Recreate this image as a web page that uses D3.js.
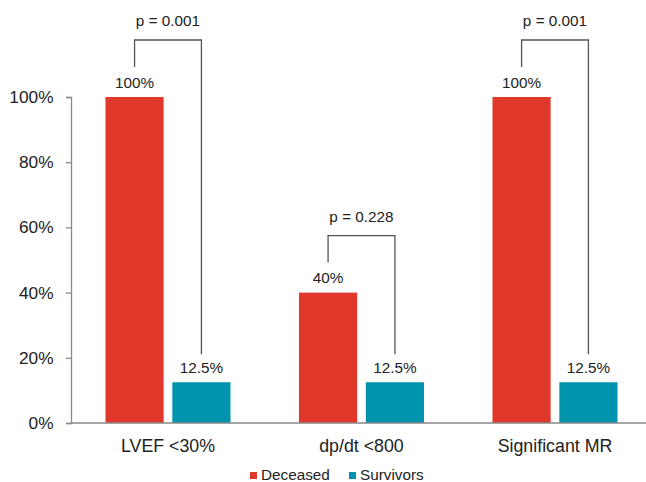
<!DOCTYPE html>
<html><head><meta charset="utf-8">
<script src="https://cdn.jsdelivr.net/npm/d3@7"></script>
<style>html,body{margin:0;padding:0;background:#fff;}svg{display:block;}</style>
</head><body>
<script>
const categories = ["LVEF <30%", "dp/dt <800", "Significant MR"];
const seriesNames = ["Deceased", "Survivors"];
const deceased = [100, 40, 100];
const survivors = [12.5, 12.5, 12.5];
const valueLabels = [["100%", "12.5%"], ["40%", "12.5%"], ["100%", "12.5%"]];
const pValues = ["p = 0.001", "p = 0.228", "p = 0.001"];
const yTicks = [0, 20, 40, 60, 80, 100];
const colors = ["#E0392B", "#0093AE"];

const W = 646, H = 482;
const svg = d3.select("body").append("svg").attr("width", W).attr("height", H);
const font = "Liberation Sans, Arial, Helvetica, sans-serif";
const textColor = "#222";

const y = d3.scaleLinear().domain([0, 100]).range([423, 97]);
const x = d3.scaleBand().domain(categories).range([71.25, 651.75]).paddingInner(0.354).paddingOuter(0.177);
const xs = d3.scaleBand().domain(seriesNames).range([0, x.bandwidth()]).paddingInner(0.13);

const data = categories.map((c, i) => ({cat: c, vals: [deceased[i], survivors[i]], labels: valueLabels[i], p: pValues[i]}));

// Y axis
const yAxis = svg.append("g").attr("transform", "translate(71,0)")
  .call(d3.axisLeft(y).tickValues(yTicks).tickFormat(d => d + "%").tickSize(5).tickPadding(12.5));
yAxis.select(".domain").attr("stroke", "#888").attr("stroke-width", 1.3);
yAxis.selectAll(".tick line").attr("stroke", "#888").attr("stroke-width", 1.3);
yAxis.selectAll(".tick text").attr("font-family", font).attr("font-size", 17.3).attr("fill", textColor);

// Bars
const groups = svg.selectAll("g.grp").data(data).enter().append("g")
  .attr("class", "grp").attr("transform", d => `translate(${x(d.cat)},0)`);
groups.selectAll("rect").data(d => d.vals.map((v, j) => ({v, j}))).enter().append("rect")
  .attr("x", d => xs(seriesNames[d.j])).attr("width", xs.bandwidth())
  .attr("y", d => y(d.v)).attr("height", d => y(0) - y(d.v))
  .attr("fill", d => colors[d.j]);

// value labels
groups.selectAll("text.val").data(d => d.vals.map((v, j) => ({v, j, label: d.labels[j]}))).enter().append("text")
  .attr("class", "val")
  .attr("x", d => xs(seriesNames[d.j]) + xs.bandwidth() / 2)
  .attr("y", d => y(d.v) - 9.5)
  .attr("text-anchor", "middle").attr("font-family", font).attr("font-size", 15.3).attr("fill", textColor)
  .text(d => d.label);

// brackets
groups.each(function(d) {
  const g = d3.select(this);
  const x1 = xs(seriesNames[0]) + xs.bandwidth() / 2;
  const x2 = xs(seriesNames[1]) + xs.bandwidth() / 2;
  const topY = y(d.vals[0]) - 57;
  const leftEnd = y(d.vals[0]) - 30;
  const rightEnd = y(d.vals[1]) - 28;
  g.append("path")
    .attr("d", `M${x1},${leftEnd}V${topY}H${x2}V${rightEnd}`)
    .attr("fill", "none").attr("stroke", "#555").attr("stroke-width", 1.3);
  g.append("text").attr("x", (x1 + x2) / 2).attr("y", topY - 14)
    .attr("text-anchor", "middle").attr("font-family", font).attr("font-size", 15.3).attr("fill", textColor)
    .text(d.p);
});

// X axis
const xAxis = svg.append("g").attr("transform", "translate(0,423)");
xAxis.append("line").attr("x1", 71).attr("x2", W).attr("y1", 0).attr("y2", 0)
  .attr("stroke", "#888").attr("stroke-width", 1.3);
xAxis.selectAll("text").data(categories).enter().append("text")
  .attr("x", d => x(d) + x.bandwidth() / 2).attr("y", 29)
  .attr("text-anchor", "middle").attr("font-family", font).attr("font-size", 17.8).attr("fill", textColor)
  .text(d => d);

// Legend
const legendItems = [{name: seriesNames[0], color: colors[0], x: 250}, {name: seriesNames[1], color: colors[1], x: 349}];
const leg = svg.append("g");
legendItems.forEach(it => {
  leg.append("rect").attr("x", it.x).attr("y", 472).attr("width", 7).attr("height", 7).attr("fill", it.color);
  leg.append("text").attr("x", it.x + 11).attr("y", 480).attr("font-family", font).attr("font-size", 15.3)
    .attr("fill", textColor).text(it.name);
});
</script>
</body></html>
